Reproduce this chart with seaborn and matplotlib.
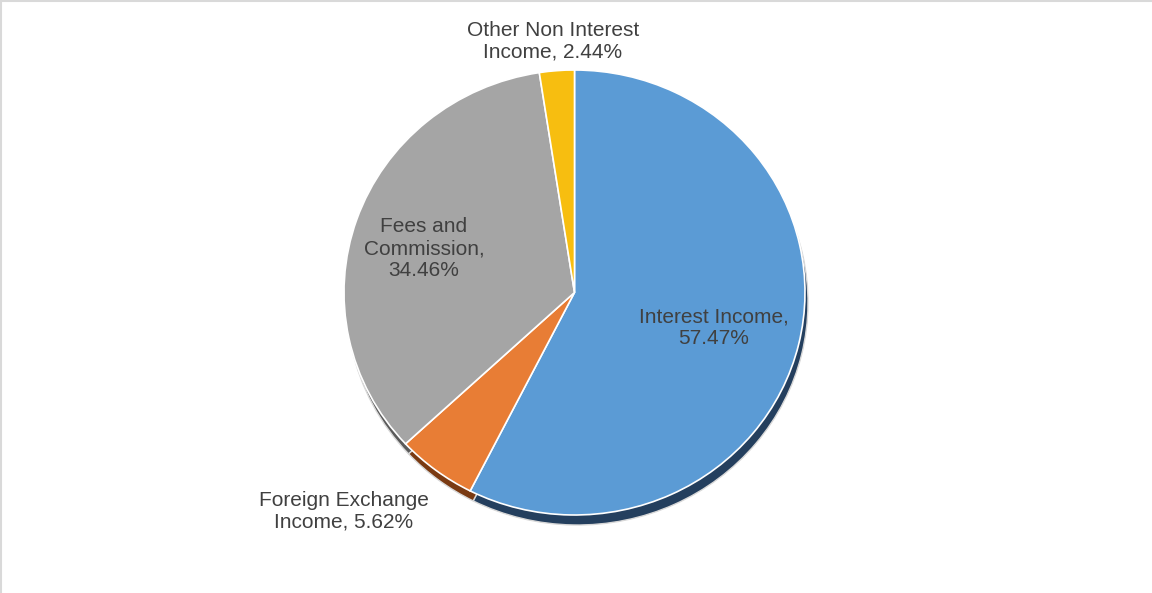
import matplotlib
matplotlib.use("Agg")
import matplotlib.pyplot as plt
from matplotlib.lines import Line2D
import seaborn as sns

categories = ["Interest Income", "Foreign Exchange Income", "Fees and Commission", "Other Non Interest Income"]
shares = [57.47, 5.62, 34.46, 2.44]
label_text = ["Interest Income,\n57.47%", "Foreign Exchange\nIncome, 5.62%",
              "Fees and\nCommission,\n34.46%", "Other Non Interest\nIncome, 2.44%"]

sns.set_theme(style="white")
plt.rcParams["font.family"] = ["Liberation Sans", "DejaVu Sans"]

colors = ["#5B9BD5", "#E87D35", "#A5A5A5", "#F7BE10"]
shadow_colors = ["#243F5E", "#7A3A12", "#5A5A5A", "#7A5E00"]

W, H = 1152, 593
fig = plt.figure(figsize=(W / 100, H / 100), dpi=100)

# pie sits in a slightly flattened box, giving the tilted look
left, top, right, bottom = 344, 70, 805, 515
pie_ax = fig.add_axes([left / W, 1 - bottom / H, (right - left) / W, (bottom - top) / H])
rx, ry = (right - left) / 2, (bottom - top) / 2

pie_ax.pie(shares, colors=shadow_colors, startangle=90, counterclock=False,
           center=(3 / rx, -10 / ry), radius=1, frame=True,
           wedgeprops=dict(edgecolor="#D8D8D8", linewidth=1.0))
pie_ax.pie(shares, colors=colors, startangle=90, counterclock=False,
           center=(0, 0), radius=1, frame=True,
           wedgeprops=dict(edgecolor="white", linewidth=1.2))
pie_ax.set_xlim(-1, 1)
pie_ax.set_ylim(-1, 1)
pie_ax.set_aspect("auto")
pie_ax.axis("off")

# overlay in pixel units for the data labels
ax = fig.add_axes([0, 0, 1, 1], zorder=2)
ax.set_xlim(0, W)
ax.set_ylim(0, H)
ax.axis("off")

label_pos = [(714, 328), (344, 511), (424, 249), (553, 41)]
for txt, (x, y) in zip(label_text, label_pos):
    ax.text(x, H - y, txt, ha="center", va="center", fontsize=15,
            color="#404040", linespacing=1.2)

# thin chart-area border
fig.add_artist(Line2D([0, 1], [0.999, 0.999], transform=fig.transFigure, color="#D9D9D9", lw=1.5))
fig.add_artist(Line2D([0.001, 0.001], [0, 1], transform=fig.transFigure, color="#D9D9D9", lw=1.5))

fig.savefig("out.png", dpi=100, facecolor="white")
